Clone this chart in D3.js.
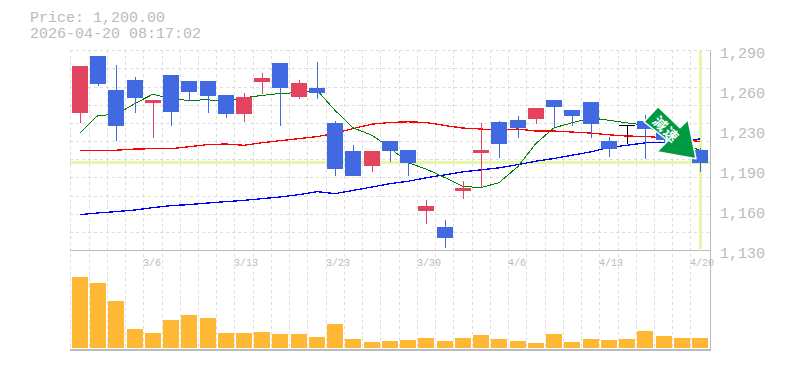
<!DOCTYPE html>
<html>
<head>
<meta charset="utf-8">
<script src="https://cdn.jsdelivr.net/npm/d3@7"></script>
<style>
  html, body { margin: 0; padding: 0; background: #fff; }
  svg { display: block; }
  text { font-family: "Liberation Mono", monospace; fill: #bbb; }
</style>
</head>
<body>
<div id="chart"></div>
<script>
// daily candles, oldest first
const opens  = [1240,1285.6,1258.3,1266,1248,1270.4,1265.5,1265.5,1254.3,1239,1265,1280,1253,1260,1232,1209.4,1197.4,1217.4,1210.2,1161.3,1148.4,1177.3,1208,1233,1234.3,1235,1250,1242.3,1249,1217.4,1230,1233.5,1225,1218,1210.2];
const highs  = [1277.6,1285.6,1278.4,1268.7,1250.3,1270.4,1265.5,1265.5,1254.3,1255.9,1272.2,1280,1266.3,1281,1233.5,1214.2,1209.4,1217.4,1210.2,1170.1,1154.1,1185.3,1232.1,1233.5,1237.5,1243.9,1250,1242.3,1249,1220.6,1230.3,1238.3,1228,1222,1211.8];
const lows   = [1232.1,1261.5,1217.7,1239.9,1219.8,1229.4,1249.5,1239.9,1235.9,1232.7,1255.1,1229.4,1251.1,1251.1,1189.3,1189.3,1192.6,1200.6,1189.3,1150.9,1131.6,1170.9,1180.5,1203.8,1219.8,1231.1,1227.8,1229.4,1219.8,1204.6,1215,1203,1212,1208,1192.6];
const closes = [1277.6,1263.1,1229.4,1251.9,1250.3,1240.7,1256.7,1253.5,1239.1,1252.7,1268,1259.9,1263.9,1255.9,1195,1189.3,1209.4,1209.4,1200,1165.3,1139.6,1179.7,1210,1215,1227.8,1243.9,1244.7,1237.5,1231.1,1211,1230,1227,1218,1210.2,1200];
const volumes = [71,65,47,19,15,28,33,30,15,15,16,14,14,11,24,9,6,7,8,10,7,10,13,9,7,5,14,6,9,8,9,17,12,10,10];

// moving averages
const maShort = [1224,1238,1238.6,1247.5,1255,1251,1250,1250.5,1249,1252,1254,1255.5,1256.3,1258.3,1242,1228,1222,1212,1200,1195,1188,1181,1180,1184,1197,1215.5,1228,1232,1236,1234,1232,1230,1222,1215,1210];
const maMid = [1210,1210,1210,1211,1211.2,1211.2,1212.8,1214.6,1215,1214,1216,1217.7,1219.3,1220.9,1223.6,1227.4,1230.9,1232.3,1232.8,1232.3,1229.8,1227.8,1227,1226.2,1227,1225.4,1225.4,1224.6,1223.8,1222.4,1221.4,1221.1,1220,1218.5,1217.1];
const maLong = [1158.4,1159.7,1160.8,1162.1,1164,1165.6,1166.4,1167.7,1168.8,1169.8,1171.2,1172.5,1174.4,1176.8,1175.2,1177.8,1180.5,1183.2,1185.1,1187.9,1190.3,1192.7,1194.3,1195.9,1198.5,1201.2,1203.4,1206,1208.7,1212.2,1214,1215.9,1216.3,1217.5,1219.1];

const dateLabels = [[4,"3/6"],[9,"3/13"],[14,"3/23"],[19,"3/30"],[24,"4/6"],[29,"4/13"],[34,"4/20"]];
const priceTicks = [1130,1162,1194,1226,1258,1290];
const priceTickLabels = ["1,130","1,160","1,190","1,230","1,260","1,290"];
const lastPrice = 1200;
const headerLines = ["Price: 1,200.00","2026-04-20 08:17:02"];
const arrowWord = "減速";

const width = 785, height = 370;
const left = 70.3, right = 708.7;
const priceBottom = 250, priceTop = 50.5, volBottom = 348, volTop = 277;

const svg = d3.select("#chart").append("svg")
    .attr("width", width)
    .attr("height", height);

const x = d3.scaleBand()
    .domain(d3.range(opens.length))
    .range([left, right])
    .paddingInner(0.12)
    .paddingOuter(0.06);
const step = x.step();
const cx = i => Math.round(x(i) + x.bandwidth() / 2 + 0.4);
const gridX = i => Math.round(x(i) - step * 0.06) + 0.5;

const y = d3.scaleLinear().domain([1130, 1290]).range([priceBottom, priceTop]);
const yVol = d3.scaleLinear().domain([0, d3.max(volumes)]).range([volBottom, volTop]);

// grid
const grid = svg.append("g")
    .attr("stroke", "#ddd")
    .attr("stroke-dasharray", "3,3")
    .attr("shape-rendering", "crispEdges");
grid.selectAll(".v")
    .data(d3.range(opens.length))
    .join("line")
    .attr("class", "v")
    .attr("x1", gridX).attr("x2", gridX)
    .attr("y1", 50).attr("y2", 350);
grid.selectAll(".h")
    .data(d3.range(1, 12))
    .join("line")
    .attr("class", "h")
    .attr("x1", 70).attr("x2", 710)
    .attr("y1", k => Math.round(priceBottom - k * 18.16) + 0.5)
    .attr("y2", k => Math.round(priceBottom - k * 18.16) + 0.5);

// highlight for the last price and last day
svg.append("line")
    .attr("x1", 70).attr("x2", 710)
    .attr("y1", y(lastPrice)).attr("y2", y(lastPrice))
    .attr("stroke", "#e6f5a8").attr("stroke-width", 3)
    .attr("shape-rendering", "crispEdges");
svg.append("line")
    .attr("x1", cx(34)).attr("x2", cx(34))
    .attr("y1", 51).attr("y2", 249)
    .attr("stroke", "#e6f5a8").attr("stroke-width", 3)
    .attr("shape-rendering", "crispEdges");

// axes frame
const frame = svg.append("g").attr("stroke", "#bbb").attr("shape-rendering", "crispEdges");
frame.append("line").attr("x1", 70).attr("x2", 710).attr("y1", 250.5).attr("y2", 250.5);
frame.append("line").attr("x1", 70).attr("x2", 711).attr("y1", 350).attr("y2", 350).attr("stroke-width", 2);
frame.append("line").attr("x1", 710.5).attr("x2", 710.5).attr("y1", 50).attr("y2", 350);

// moving average lines
const lineOf = d3.line().x((d, i) => cx(i)).y(d => y(d));
[[maLong, "#0000ff", 1.3], [maMid, "#ff0000", 1.3], [maShort, "#008000", 1]].forEach(([values, colour, weight]) => {
  svg.append("path")
      .attr("d", lineOf(values))
      .attr("fill", "none")
      .attr("stroke", colour)
      .attr("stroke-width", weight)
      .attr("shape-rendering", "crispEdges");
});

// candles
const candleColour = i => closes[i] > opens[i] ? "#e2435f" : closes[i] < opens[i] ? "#4169e1" : "#000";
const candles = svg.append("g").attr("shape-rendering", "crispEdges");
candles.selectAll("line")
    .data(d3.range(opens.length))
    .join("line")
    .attr("x1", i => cx(i) + 0.5).attr("x2", i => cx(i) + 0.5)
    .attr("y1", i => y(highs[i])).attr("y2", i => y(lows[i]))
    .attr("stroke", candleColour);
candles.selectAll("rect")
    .data(d3.range(opens.length))
    .join("rect")
    .attr("x", i => cx(i) - 8)
    .attr("width", 16)
    .attr("y", i => y(Math.max(opens[i], closes[i])))
    .attr("height", i => Math.max(1, Math.abs(y(opens[i]) - y(closes[i]))))
    .attr("fill", candleColour);

// volume
svg.append("g")
    .attr("fill", "#ffb833")
    .attr("shape-rendering", "crispEdges")
    .selectAll("rect")
    .data(volumes)
    .join("rect")
    .attr("x", (d, i) => cx(i) - 8)
    .attr("width", 16)
    .attr("y", d => yVol(d))
    .attr("height", d => volBottom - yVol(d));

// labels
svg.append("g")
    .selectAll("text")
    .data(dateLabels)
    .join("text")
    .attr("x", d => gridX(d[0]) - 0.5)
    .attr("y", 266)
    .attr("font-size", 10)
    .text(d => d[1]);

const axisRight = d3.axisRight(y)
    .tickValues(priceTicks)
    .tickSize(0)
    .tickPadding(10)
    .tickFormat((d, i) => priceTickLabels[i]);
const gAxis = svg.append("g").attr("transform", "translate(710,0)").call(axisRight);
gAxis.select(".domain").remove();
gAxis.selectAll("text")
    .attr("font-size", 15)
    .attr("font-family", "Liberation Mono")
    .attr("fill", "#bbb")
    .attr("dy", "0.47em");

svg.append("g")
    .selectAll("text")
    .data(headerLines)
    .join("text")
    .attr("x", 30)
    .attr("y", (d, i) => 22 + i * 16)
    .attr("font-size", 15)
    .text(d => d);

// arrow pointing at the last candle
const arrowShape = [[-37,-51],[-51,-36],[-27,-17],[-38,-6],[1,1],[-7,-38],[-15,-30]];
const arrow = svg.append("g")
    .attr("transform", `translate(${cx(34) - 5},${y(lastPrice) - 5})`);
arrow.append("polygon")
    .attr("points", arrowShape.join(" "))
    .attr("fill", "#009944")
    .attr("stroke", "#fff")
    .attr("stroke-width", 1.5)
    .attr("stroke-linejoin", "round");
arrow.append("text")
    .attr("transform", "translate(-29,-28) rotate(45)")
    .attr("text-anchor", "middle")
    .attr("dy", "0.35em")
    .attr("font-size", 14)
    .attr("font-weight", "bold")
    .attr("letter-spacing", 1.5)
    .style("font-family", "'Noto Sans CJK JP'")
    .style("fill", "#fff")
    .text(arrowWord);
</script>
</body>
</html>
